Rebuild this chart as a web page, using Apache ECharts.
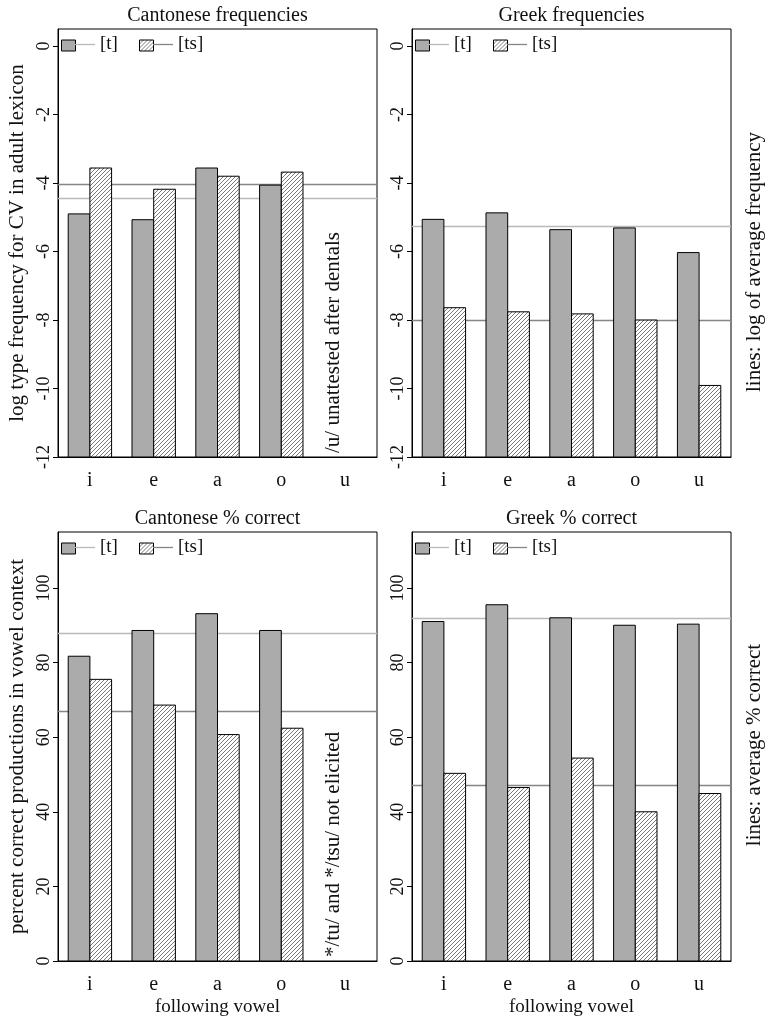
<!DOCTYPE html>
<html><head><meta charset="utf-8">
<script src="https://cdn.jsdelivr.net/npm/echarts@6/dist/echarts.min.js"></script>
<style>html,body{margin:0;padding:0;background:#fff}#c{width:768px;height:1025px}</style>
</head><body><div id="c"></div>
<script>
// ---------- data ----------
const vowels = ['i', 'e', 'a', 'o', 'u'];
const cantFreqT  = [-4.90, -5.07, -3.56, -4.06, null];
const cantFreqTS = [-3.56, -4.18, -3.80, -3.68, null];
const cantFreqAvg = [-4.44, -4.02];          // [t], [ts]
const greekFreqT  = [-5.06, -4.87, -5.36, -5.31, -6.03];
const greekFreqTS = [-7.64, -7.76, -7.82, -8.00, -9.91];
const greekFreqAvg = [-5.25, -8.00];
const cantPctT  = [81.7, 88.6, 93.1, 88.6, null];
const cantPctTS = [75.5, 68.6, 60.7, 62.4, null];
const cantPctAvg = [87.9, 66.9];
const greekPctT  = [91.0, 95.5, 92.0, 90.0, 90.3];
const greekPctTS = [50.3, 46.5, 54.4, 40.0, 44.9];
const greekPctAvg = [91.75, 47.2];
const freqTicks = [-12, -10, -8, -6, -4, -2, 0];
const pctTicks = [0, 20, 40, 60, 80, 100];
const seriesNames = ['[t]', '[ts]'];

// ---------- style ----------
const FONT = '"Liberation Serif", "Times New Roman", serif';
const GRAY = '#ababab', LIGHT = '#b9b9b9', DARK = '#858585', INK = '#111';
function hatchCanvas() {
  const c = document.createElement('canvas'); c.width = 4; c.height = 4;
  const g = c.getContext('2d');
  g.fillStyle = '#fff'; g.fillRect(0, 0, 4, 4);
  g.strokeStyle = '#6a6a6a'; g.lineWidth = 0.9;
  g.beginPath();
  g.moveTo(0, 4); g.lineTo(4, 0);
  g.moveTo(-1, 1); g.lineTo(1, -1);
  g.moveTo(3, 5); g.lineTo(5, 3);
  g.stroke();
  return c;
}
const HATCH = { image: hatchCanvas(), repeat: 'repeat' };

const panels = [
  { title: 'Cantonese frequencies', t: cantFreqT, ts: cantFreqTS, avg: cantFreqAvg, ticks: freqTicks, min: -12, max: 0.5,
    left: 58, top: 29, height: 428, yName: 'log type frequency for CV in adult lexicon', xName: '',
    note: '/u/ unattested after dentals', side: '' },
  { title: 'Greek frequencies', t: greekFreqT, ts: greekFreqTS, avg: greekFreqAvg, ticks: freqTicks, min: -12, max: 0.5,
    left: 412, top: 29, height: 428, yName: '', xName: '', note: '', side: 'lines: log of average frequency' },
  { title: 'Cantonese % correct', t: cantPctT, ts: cantPctTS, avg: cantPctAvg, ticks: pctTicks, min: 0, max: 115,
    left: 58, top: 532, height: 429, yName: 'percent correct productions in vowel context', xName: 'following vowel',
    note: '*/tu/ and */tsu/ not elicited', side: '' },
  { title: 'Greek % correct', t: greekPctT, ts: greekPctTS, avg: greekPctAvg, ticks: pctTicks, min: 0, max: 115,
    left: 412, top: 532, height: 429, yName: '', xName: 'following vowel', note: '', side: 'lines: average % correct' }
];
const GW = 319;

function barRenderer(offsetSign, yMin) {
  return function (params, api) {
    const v = api.value(1);
    if (v === null || v === undefined || isNaN(v)) return;
    const c = api.value(0);
    const band = api.size([1, 0])[0];
    const w = band * 0.34;
    const topPt = api.coord([c, v]);
    const basePt = api.coord([c, yMin]);
    return {
      type: 'rect',
      shape: { x: topPt[0] + (offsetSign < 0 ? -w : 0), y: topPt[1], width: w, height: basePt[1] - topPt[1] },
      style: api.style()
    };
  };
}

const option = { animation: false, backgroundColor: '#fff', title: [], grid: [], xAxis: [], yAxis: [], series: [], legend: [], graphic: [] };

panels.forEach((p, i) => {
  const cx = p.left + GW / 2;
  option.title.push({ text: p.title, left: cx, top: p.top - 23, textAlign: 'center', padding: 0,
    textStyle: { fontFamily: FONT, fontSize: 20, fontWeight: 'normal', color: INK } });
  option.grid.push({ left: p.left, top: p.top, width: GW, height: p.height, show: true, borderColor: '#000', borderWidth: 1, backgroundColor: 'transparent' });
  option.xAxis.push({ gridIndex: i, type: 'category', data: vowels,
    axisLine: { show: true, onZero: false, lineStyle: { color: '#000', width: 1 } }, axisTick: { show: false },
    axisLabel: { fontFamily: FONT, fontSize: 20, color: INK, margin: 14 },
    name: p.xName, nameLocation: 'middle', nameGap: 37, nameTextStyle: { fontFamily: FONT, fontSize: 19, color: INK } });
  option.yAxis.push({ gridIndex: i, type: 'value', min: p.min, max: p.max,
    axisLine: { show: true, onZero: false, lineStyle: { color: '#000', width: 1 } }, splitLine: { show: false },
    axisTick: { show: true, length: 5, lineStyle: { color: '#000' }, customValues: p.ticks },
    axisLabel: { rotate: 90, margin: 5, fontFamily: FONT, fontSize: 18, color: INK, customValues: p.ticks },
    name: p.yName, nameLocation: 'middle', nameRotate: 90, nameGap: 30,
    nameTextStyle: { fontFamily: FONT, fontSize: 21, color: INK } });

  // bars
  [p.t, p.ts].forEach((vals, k) => {
    option.series.push({
      type: 'custom', name: seriesNames[k], xAxisIndex: i, yAxisIndex: i, z: 3,
      renderItem: barRenderer(k === 0 ? -1 : 1, p.min),
      encode: { x: 0, y: 1 },
      itemStyle: { color: k === 0 ? GRAY : HATCH, borderColor: '#000', borderWidth: 1 },
      data: vals.map((v, j) => [j, v])
    });
  });
  // average lines
  p.avg.forEach((a, k) => {
    const col = k === 0 ? LIGHT : DARK;
    option.series.push({
      type: 'line', name: 'avg ' + seriesNames[k], xAxisIndex: i, yAxisIndex: i, z: 1, data: [],
      itemStyle: { color: col }, lineStyle: { color: col },
      markLine: { z: 1, silent: true, symbol: 'none', label: { show: false },
        lineStyle: { color: col, width: 1.3, type: 'solid' }, data: [{ yAxis: a }] }
    });
  });

  // legends
  const cy = p.top + 16;
  [0, 1].forEach(k => {
    const base = p.left + (k === 0 ? 3 : 81);
    option.legend.push({ selectedMode: false, padding: 0, left: base, top: cy - 5.5, itemWidth: 14, itemHeight: 11,
      formatter: () => '', textStyle: { fontSize: 1 },
      data: [{ name: seriesNames[k], icon: 'rect', itemStyle: { color: k === 0 ? GRAY : HATCH, borderColor: '#000', borderWidth: 1 } }] });
    option.legend.push({ selectedMode: false, padding: 0, left: base + 14, top: cy - 10, itemWidth: 20, itemHeight: 1.3,
      formatter: n => n.replace('avg ', ''), textStyle: { fontFamily: FONT, fontSize: 19, color: INK },
      data: [{ name: 'avg ' + seriesNames[k], icon: 'rect', itemStyle: { color: k === 0 ? LIGHT : DARK, borderWidth: 0 } }] });
  });

  if (p.note) {
    option.graphic.push({ type: 'text', x: 333, y: p.top + p.height - 4, rotation: Math.PI / 2,
      style: { text: p.note, font: '21px ' + FONT, fill: INK, align: 'left', verticalAlign: 'middle' } });
  }
  if (p.side) {
    option.graphic.push({ type: 'text', x: 754, y: p.top + (i === 1 ? 233 : 213), rotation: Math.PI / 2,
      style: { text: p.side, font: '21px ' + FONT, fill: INK, align: 'center', verticalAlign: 'middle' } });
  }
});

const chart = echarts.init(document.getElementById('c'), null, { renderer: 'canvas' });
chart.setOption(option);
</script>
</body></html>
